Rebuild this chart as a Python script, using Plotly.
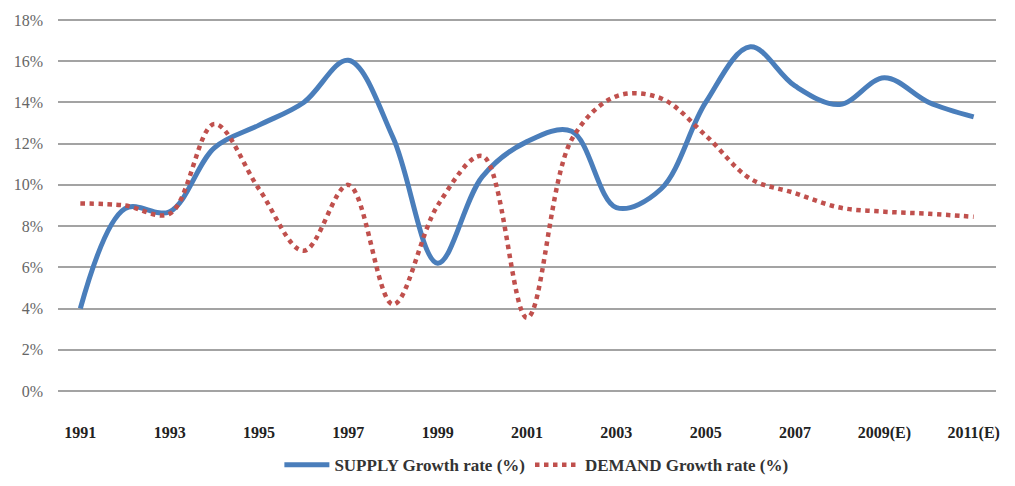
import plotly.graph_objects as go

years = ["1991", "1992", "1993", "1994", "1995", "1996", "1997", "1998", "1999", "2000",
         "2001", "2002", "2003", "2004", "2005", "2006", "2007", "2008", "2009(E)", "2010(E)", "2011(E)"]
supply = [4.0, 8.85, 8.7, 11.8, 12.9, 14.0, 16.05, 12.3, 6.2, 10.4,
          12.1, 12.6, 8.9, 9.8, 14.0, 16.7, 14.8, 13.9, 15.2, 14.0, 13.3]
demand = [9.1, 9.0, 8.6, 12.95, 9.8, 6.8, 10.0, 4.2, 9.0, 11.4,
          3.55, 12.2, 14.3, 14.2, 12.4, 10.3, 9.6, 8.9, 8.7, 8.6, 8.45]
tick_labels = years[::2]
y_ticks = list(range(0, 19, 2))

fig = go.Figure()
fig.add_trace(go.Scatter(
    x=years, y=supply, mode="lines", name="SUPPLY Growth rate (%)",
    line=dict(color="#4a7ebb", width=5, shape="spline", smoothing=1.0),
))
fig.add_trace(go.Scatter(
    x=years, y=demand, mode="lines", name="DEMAND Growth rate (%)",
    line=dict(color="#c0504d", width=4.5, dash="dot", shape="spline", smoothing=1.0),
))

fig.update_layout(
    width=1015, height=486,
    margin=dict(l=50, r=27, t=11, b=91),
    paper_bgcolor="white", plot_bgcolor="white",
    font=dict(family="Liberation Serif", size=13, color="#222"),
    showlegend=True,
    legend=dict(orientation="h", x=0.51, xanchor="center", y=-0.196, yanchor="middle",
                font=dict(family="Liberation Serif", size=17, color="#333", weight="bold"),
                itemwidth=45, tracegroupgap=0),
    xaxis=dict(
        type="category", range=[-0.5, 20.5], automargin=False,
        tickmode="array", tickvals=tick_labels, ticktext=tick_labels,
        showgrid=False, zeroline=False, showline=False, ticks="",
        ticklabelstandoff=29,
        tickfont=dict(family="Liberation Serif", size=16, color="#222", weight="bold"),
    ),
    yaxis=dict(
        range=[-0.05, 18.05], automargin=False, tickmode="array", tickvals=y_ticks,
        ticktext=[f"{v}%" for v in y_ticks],
        showgrid=True, gridcolor="#a3a3a3", gridwidth=1.6,
        zeroline=False, showline=False, ticks="",
        ticklabelstandoff=14,
        tickfont=dict(family="Liberation Serif", size=16, color="#666"),
    ),
)

fig.write_html("out.html")
